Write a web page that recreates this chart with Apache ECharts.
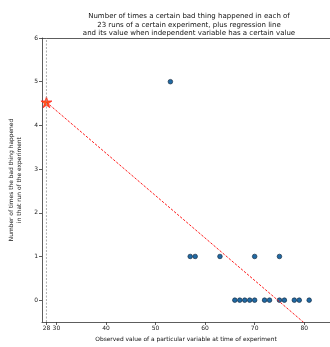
<!DOCTYPE html>
<html><head><meta charset="utf-8">
<script src="https://cdn.jsdelivr.net/npm/echarts@6/dist/echarts.min.js"></script>
<style>html,body{margin:0;padding:0;background:#fff}#c{width:330px;height:347px}</style>
</head><body><div id="c"></div>
<script>
const zeroX = [66, 67, 68, 69, 70, 72, 73, 75, 76, 78, 79, 81];
const oneX = [57, 58, 63, 70, 75];
const fiveX = [53];
const refX = 28;
const refY = 4.53;
const lineX = [28, 80];
const lineY = [4.53, -0.52];
const xTicks = [28, 30, 40, 50, 60, 70, 80];
const yTicks = [0, 1, 2, 3, 4, 5, 6];

const pts = [].concat(
  zeroX.map(x => [x, 0]),
  oneX.map(x => [x, 1]),
  fiveX.map(x => [x, 5])
);
const font = 'DejaVu Sans';
const chart = echarts.init(document.getElementById('c'), null, {renderer: 'canvas'});
const axisCol = '#333';
chart.setOption({
  animation: false,
  title: {
    text: 'Number of times a certain bad thing happened in each of\n23 runs of a certain experiment, plus regression line\nand its value when independent variable has a certain value',
    left: 184, top: 7, textAlign: 'center',
    textStyle: {fontFamily: font, fontSize: 7, fontWeight: 'normal', color: '#111', lineHeight: 8.5}
  },
  grid: {left: 37.7, right: 0, top: 38, bottom: 18},
  xAxis: [{
    type: 'value', min: 27.1, max: 85.2,
    name: 'Observed value of a particular variable at time of experiment',
    nameLocation: 'middle', nameGap: 14,
    nameTextStyle: {fontFamily: font, fontSize: 5.9, color: '#111'},
    splitLine: {show: false},
    axisLine: {onZero: false, lineStyle: {color: axisCol, width: 0.8}},
    axisTick: {show: true, length: 3, customValues: xTicks, lineStyle: {color: axisCol, width: 0.8}},
    axisLabel: {customValues: xTicks, fontFamily: font, fontSize: 6, color: '#222', margin: 3}
  }, {
    type: 'value', position: 'top', min: 27.1, max: 85.2,
    splitLine: {show: false},
    axisLine: {show: true, onZero: false, lineStyle: {color: axisCol, width: 0.8}},
    axisTick: {show: false}, axisLabel: {show: false}
  }],
  yAxis: {
    type: 'value', min: -0.5, max: 6,
    name: 'Number of times the bad thing happened\nin that run of the experiment',
    nameLocation: 'middle', nameGap: 19, nameRotate: 90,
    nameTextStyle: {fontFamily: font, fontSize: 5.9, color: '#111', lineHeight: 7.5},
    splitLine: {show: false},
    axisLine: {show: true, onZero: false, lineStyle: {color: axisCol, width: 0.8}},
    axisTick: {show: true, length: 3, customValues: yTicks, lineStyle: {color: axisCol, width: 0.8}},
    axisLabel: {customValues: yTicks, fontFamily: font, fontSize: 6, color: '#222', margin: 4}
  },
  series: [
    {
      type: 'line', data: [[refX, -0.5], [refX, 6]], symbol: 'none', silent: true,
      lineStyle: {color: '#999', width: 0.8, type: [2, 1.5]}
    },
    {
      type: 'line', data: lineX.map((x, i) => [x, lineY[i]]), symbol: 'none', clip: true,
      lineStyle: {color: '#ff1a1a', width: 1, type: [2.5, 1.5]}
    },
    {
      type: 'scatter', data: pts, symbolSize: 4.6,
      itemStyle: {color: '#1f6aa5', borderColor: '#1b2f45', borderWidth: 0.7, opacity: 1}
    },
    {
      type: 'scatter', data: [[refX, refY]], symbolSize: 11,
      symbol: 'path://M50,0 L61,35 L98,35 L68,57 L79,91 L50,70 L21,91 L32,57 L2,35 L39,35 Z',
      itemStyle: {color: '#ff5a1a', borderColor: '#ff1a1a', borderWidth: 0.7, opacity: 1}
    }
  ]
});
</script></body></html>
